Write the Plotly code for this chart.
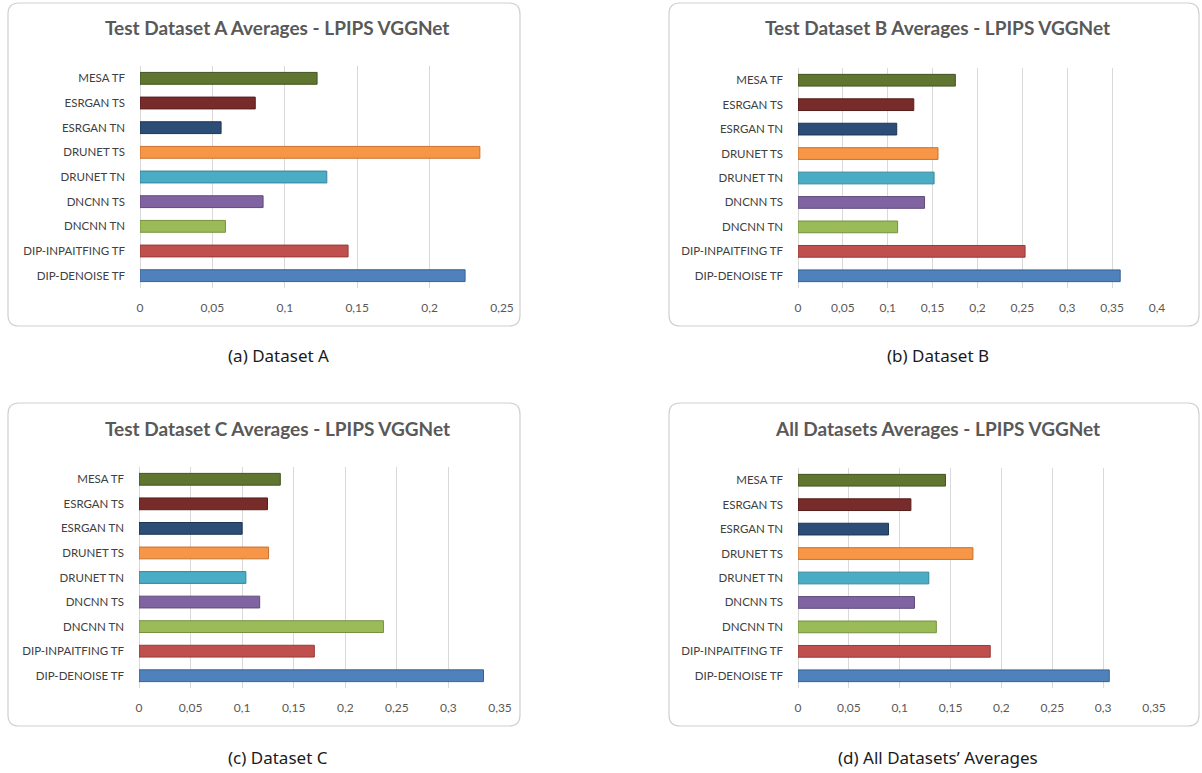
import plotly.graph_objects as go

W, H = 1202, 773

categories = ["DIP-DENOISE TF", "DIP-INPAITFING TF", "DNCNN TN", "DNCNN TS",
              "DRUNET TN", "DRUNET TS", "ESRGAN TN", "ESRGAN TS", "MESA TF"]
colors = ["#4F81BD", "#C0504D", "#9BBB59", "#8064A2", "#4BACC6",
          "#F79646", "#2C4D75", "#772C2A", "#5F7530"]
edge_colors = ["#3A6291", "#943B39", "#76903F", "#5F4A7A", "#37849A",
               "#C6722F", "#1E3552", "#561F1E", "#435322"]

values_a = [0.2245, 0.1437, 0.059, 0.085, 0.129, 0.2347, 0.056, 0.0796, 0.1223]
values_b = [0.359, 0.253, 0.111, 0.141, 0.1516, 0.156, 0.110, 0.129, 0.1753]
values_c = [0.334, 0.170, 0.237, 0.117, 0.1036, 0.1256, 0.100, 0.1246, 0.137]
values_d = [0.306, 0.189, 0.136, 0.1145, 0.1286, 0.172, 0.089, 0.111, 0.145]

titles = ["Test Dataset A Averages - LPIPS VGGNet",
          "Test Dataset B Averages - LPIPS VGGNet",
          "Test Dataset C Averages - LPIPS VGGNet",
          "All Datasets Averages - LPIPS VGGNet"]
captions = ["(a) Dataset A", "(b) Dataset B", "(c) Dataset C", "(d) All Datasets’ Averages"]
x_max = [0.25, 0.4, 0.35, 0.35]

# layout geometry in pixels (screen coordinates)
boxes = [(8, 3, 520, 326), (669, 3, 1199, 326), (8, 403, 520, 726), (669, 403, 1199, 726)]
plot_x = [(140, 502), (798, 1157), (139, 500), (798, 1154)]
plot_y = [(66, 288), (68, 288), (467, 688), (468, 688)]
title_pos = [(277, 27), (937, 27), (277, 428), (937, 428)]
caption_pos = [(278, 355), (938, 355), (278, 757), (938, 757)]


def px(x):
    return x / W


def py(y):
    return 1 - y / H


def rounded_path(x0, y0, x1, y1, r):
    X0, X1 = px(x0), px(x1)
    Y0, Y1 = py(y0), py(y1)  # Y0 top, Y1 bottom (paper)
    rx, ry = r / W, r / H
    return (f"M {X0 + rx},{Y0} L {X1 - rx},{Y0} Q {X1},{Y0} {X1},{Y0 - ry} "
            f"L {X1},{Y1 + ry} Q {X1},{Y1} {X1 - rx},{Y1} "
            f"L {X0 + rx},{Y1} Q {X0},{Y1} {X0},{Y1 + ry} "
            f"L {X0},{Y0 - ry} Q {X0},{Y0} {X0 + rx},{Y0} Z")


fig = go.Figure()
all_values = [values_a, values_b, values_c, values_d]
shapes = []
annotations = []
for i in range(4):
    xa = "x" if i == 0 else f"x{i+1}"
    ya = "y" if i == 0 else f"y{i+1}"
    fig.add_trace(go.Bar(
        y=categories, x=all_values[i], orientation="h",
        marker=dict(color=colors, line=dict(color=edge_colors, width=1)),
        width=0.48, xaxis=xa, yaxis=ya, showlegend=False,
    ))
    xk = "xaxis" if i == 0 else f"xaxis{i+1}"
    yk = "yaxis" if i == 0 else f"yaxis{i+1}"
    fig.layout[xk] = dict(
        domain=[px(plot_x[i][0]), px(plot_x[i][1])],
        anchor=ya, range=[0, x_max[i]], dtick=0.05, tick0=0, automargin=False,
        showgrid=True, gridcolor="#D9D9D9", gridwidth=1,
        zeroline=True, zerolinecolor="#D9D9D9", zerolinewidth=1,
        showline=False, ticks="outside", ticklen=9, tickcolor="rgba(0,0,0,0)",
        tickfont=dict(family="Lato", size=12, color="#595959"), fixedrange=True,
    )
    fig.layout[yk] = dict(
        domain=[py(plot_y[i][1]), py(plot_y[i][0])],
        anchor=xa, type="category", categoryorder="array", categoryarray=categories,
        showgrid=False, zeroline=False, showline=False, automargin=False,
        ticks="", ticklabelstandoff=14,
        tickfont=dict(family="Lato", size=11.5, color="#404040"), fixedrange=True,
    )
    x0, y0, x1, y1 = boxes[i]
    shapes.append(dict(
        type="path", xref="paper", yref="paper", path=rounded_path(x0, y0, x1, y1, 11),
        line=dict(color="#D0D0D0", width=1.2), fillcolor="rgba(0,0,0,0)", layer="below",
    ))
    annotations.append(dict(
        text=f"<b>{titles[i]}</b>", xref="paper", yref="paper",
        x=px(title_pos[i][0]), y=py(title_pos[i][1]), xanchor="center", yanchor="middle",
        showarrow=False, font=dict(family="Lato", size=19, color="#595959"),
    ))
    annotations.append(dict(
        text=captions[i], xref="paper", yref="paper",
        x=px(caption_pos[i][0]), y=py(caption_pos[i][1]), xanchor="center", yanchor="middle",
        showarrow=False, font=dict(family="Noto Sans", size=17, color="#1a1a1a"),
    ))

fig.update_layout(
    template="none",
    width=W, height=H, margin=dict(l=0, r=0, t=0, b=0, autoexpand=False),
    paper_bgcolor="white", plot_bgcolor="white",
    separators=",.", shapes=shapes, annotations=annotations,
)
fig.write_html(
    "out.html",
    config={"displayModeBar": False},
    post_script="document.body.style.margin='0';document.body.style.overflow='hidden';",
)
